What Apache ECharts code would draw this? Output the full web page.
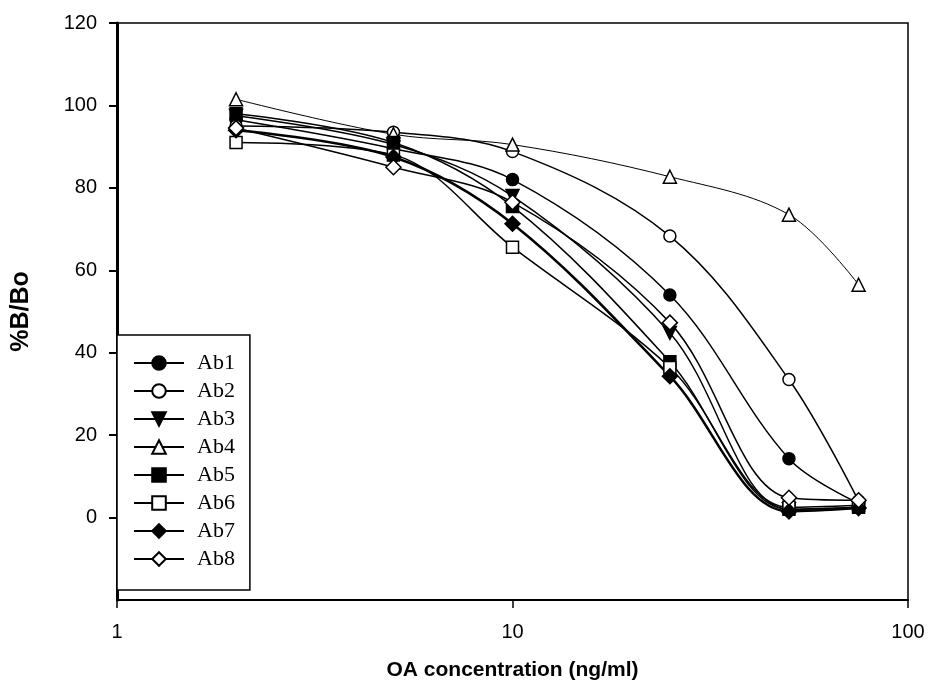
<!DOCTYPE html>
<html>
<head>
<meta charset="utf-8">
<script src="https://cdn.jsdelivr.net/npm/echarts@6/dist/echarts.min.js"></script>
<style>
  html, body { margin: 0; padding: 0; background: #fff; }
  #chart { width: 929px; height: 685px; }
</style>
</head>
<body>
<div id="chart"></div>
<script>
// OA concentration (ng/ml)
const conc = [2, 5, 10, 25, 50, 75]

// %B/Bo per antibody
const ab1 = [96.5, 89.5, 82, 54, 14.3, 3.5]
const ab2 = [95, 93.5, 88.8, 68.3, 33.5, 4]
const ab3 = [97.5, 90.5, 78, 44.8, 2, 2.5]
const ab4 = [101.5, 93, 90.5, 82.7, 73.5, 56.5]
const ab5 = [98, 91, 75.5, 37.8, 2, 2.5]
const ab6 = [91, 88, 65.6, 36.4, 2.5, 3]
const ab7 = [94, 87.5, 71.3, 34.3, 1.5, 2.3]
const ab8 = [94.5, 85, 76.5, 47.3, 4.8, 4.2]

const yTicks = [0, 20, 40, 60, 80, 100, 120]
const xTicks = [1, 10, 100]

// name, values, symbol, filled, rotate, size, line width
const seriesDefs = [
  ['Ab1', ab1, 'circle', true, 0, 12, 1.5],
  ['Ab2', ab2, 'circle', false, 0, 12, 1.5],
  ['Ab3', ab3, 'triangle', true, 180, 13, 1.5],
  ['Ab4', ab4, 'triangle', false, 0, 13, 1],
  ['Ab5', ab5, 'rect', true, 0, 12, 1.5],
  ['Ab6', ab6, 'rect', false, 0, 12, 1.5],
  ['Ab7', ab7, 'diamond', true, 0, 15, 2.5],
  ['Ab8', ab8, 'diamond', false, 0, 15, 1.5]
]

const chart = echarts.init(document.getElementById('chart'))

const series = seriesDefs.map(([name, vals, symbol, filled, rot, size, lw]) => ({
  name,
  type: 'line',
  smooth: 0.35,
  symbol,
  symbolRotate: rot,
  symbolSize: size,
  showAllSymbol: true,
  data: conc.map((c, i) => [c, vals[i]]),
  lineStyle: { color: '#000', width: lw },
  itemStyle: {
    color: filled ? '#000' : '#fff',
    borderColor: '#000',
    borderWidth: 1.5
  },
  emphasis: { disabled: true },
  z: 3
}))

chart.setOption({
  animation: false,
  backgroundColor: '#fff',
  grid: {
    left: 117,
    right: 21,
    top: 23,
    bottom: 85,
    containLabel: false,
    outerBoundsMode: 'none',
    show: true,
    borderColor: '#000',
    borderWidth: 1.5
  },
  legend: {
    orient: 'vertical',
    left: 117,
    top: 335,
    padding: [17, 15, 20, 16],
    itemWidth: 50,
    itemHeight: 17,
    itemGap: 6,
    backgroundColor: '#fff',
    borderColor: '#000',
    borderWidth: 1.5,
    textStyle: {
      fontFamily: 'Liberation Serif, Times New Roman, serif',
      fontSize: 22,
      lineHeight: 22,
      color: '#000',
      padding: [0, 0, 0, 8]
    },
    data: seriesDefs.map(d => d[0])
  },
  xAxis: {
    type: 'log',
    logBase: 10,
    min: 1,
    max: 100,
    name: 'OA concentration (ng/ml)',
    nameLocation: 'middle',
    nameGap: 60,
    nameTextStyle: {
      fontFamily: 'Liberation Sans, Arial, sans-serif',
      fontWeight: 'bold',
      fontSize: 21,
      color: '#000'
    },
    axisLine: { onZero: false, lineStyle: { color: '#000', width: 2 } },
    axisTick: { show: true, length: 8, lineStyle: { color: '#000', width: 1.5 }, customValues: xTicks },
    minorTick: { show: false },
    axisLabel: {
      customValues: xTicks,
      margin: 22,
      fontFamily: 'Liberation Sans Narrow, Arial Narrow, Liberation Sans, sans-serif',
      fontSize: 20,
      color: '#000'
    },
    splitLine: { show: false }
  },
  yAxis: {
    type: 'value',
    min: -20,
    max: 120,
    interval: 20,
    name: '%B/Bo',
    nameLocation: 'middle',
    nameGap: 83,
    nameTextStyle: {
      fontFamily: 'Liberation Sans, Arial, sans-serif',
      fontWeight: 'bold',
      fontSize: 25,
      color: '#000'
    },
    axisLine: { show: true, onZero: false, lineStyle: { color: '#000', width: 3 } },
    axisTick: { show: true, length: 8, lineStyle: { color: '#000', width: 2 }, customValues: yTicks },
    axisLabel: {
      customValues: yTicks,
      margin: 20,
      fontFamily: 'Liberation Sans, Arial, sans-serif',
      fontSize: 20,
      color: '#000'
    },
    splitLine: { show: false }
  },
  series
})
</script>
</body>
</html>
